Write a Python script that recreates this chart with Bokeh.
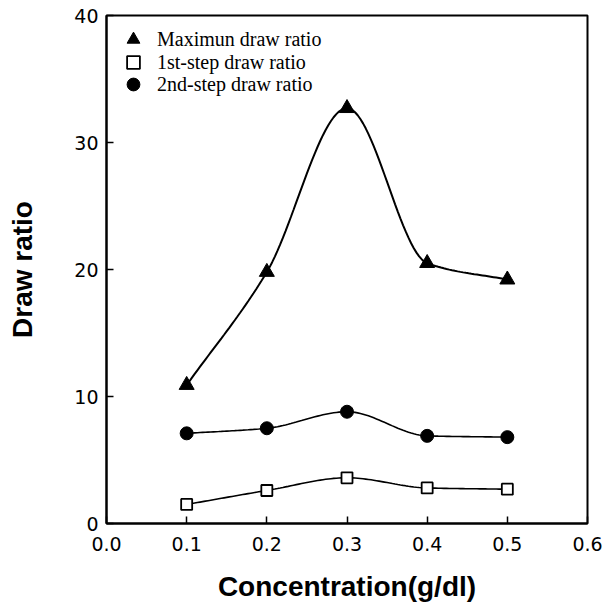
import numpy as np
from bokeh.plotting import figure
from bokeh.models import Legend, LegendItem, FixedTicker, Range1d
from bokeh.embed import file_html
from bokeh.resources import INLINE

# ---- data ----
concentration = [0.1, 0.2, 0.3, 0.4, 0.5]
max_draw_ratio = [10.9, 19.8, 32.7, 20.5, 19.2]
first_step_ratio = [1.5, 2.6, 3.6, 2.8, 2.7]
second_step_ratio = [7.1, 7.5, 8.8, 6.9, 6.8]
x_ticks = [0.0, 0.1, 0.2, 0.3, 0.4, 0.5, 0.6]
y_ticks = [0, 10, 20, 30, 40]
series_names = ["Maximun draw ratio", "1st-step draw ratio", "2nd-step draw ratio"]


def pchip_curve(x, y, n=30):
    """Monotone cubic (Fritsch-Carlson) smoothing through the measured points."""
    x = np.asarray(x, float)
    y = np.asarray(y, float)
    h = np.diff(x)
    d = np.diff(y) / h
    m = np.zeros_like(y)
    for k in range(1, len(x) - 1):
        if d[k - 1] * d[k] <= 0:
            m[k] = 0.0
        else:
            w1 = 2 * h[k] + h[k - 1]
            w2 = h[k] + 2 * h[k - 1]
            m[k] = (w1 + w2) / (w1 / d[k - 1] + w2 / d[k])
    m[0] = d[0]
    m[-1] = d[-1]
    xs, ys = [], []
    for k in range(len(x) - 1):
        t = np.linspace(0, 1, n, endpoint=(k == len(x) - 2))
        h00 = 2 * t**3 - 3 * t**2 + 1
        h10 = t**3 - 2 * t**2 + t
        h01 = -2 * t**3 + 3 * t**2
        h11 = t**3 - t**2
        xs.extend(x[k] + t * h[k])
        ys.extend(h00 * y[k] + h10 * h[k] * m[k] + h01 * y[k + 1] + h11 * h[k] * m[k + 1])
    return xs, ys


p = figure(
    width=605, height=610,
    x_range=Range1d(0, 0.6), y_range=Range1d(0, 40),
    output_backend="svg", toolbar_location=None,
    min_border_left=106, min_border_right=18,
    min_border_top=15, min_border_bottom=87,
    background_fill_color="white", border_fill_color="white",
)
p.grid.visible = False
p.outline_line_color = "black"
p.outline_line_width = 2

for ax in (p.xaxis[0], p.yaxis[0]):
    ax.axis_line_width = 2
    ax.major_tick_in = 7
    ax.major_tick_out = 0
    ax.major_tick_line_width = 1.5
    ax.minor_tick_line_color = None
    ax.major_label_text_font = "DejaVu Sans"
    ax.major_label_text_font_size = "19px"
    ax.major_label_text_font_style = "normal"
    ax.major_label_text_color = "black"
    ax.axis_label_text_font = "Liberation Sans"
    ax.axis_label_text_font_size = "28px"
    ax.axis_label_text_font_style = "bold"
    ax.axis_label_text_color = "black"

p.xaxis.ticker = FixedTicker(ticks=x_ticks)
p.yaxis.ticker = FixedTicker(ticks=y_ticks)
p.xaxis.major_label_overrides = {t: f"{t:.1f}" for t in x_ticks}
p.xaxis.axis_label = "Concentration(g/dl)"
p.yaxis.axis_label = "Draw ratio"
p.xaxis.major_label_standoff = 13
p.yaxis.major_label_standoff = 8
p.xaxis.axis_label_standoff = 17
p.yaxis.axis_label_standoff = 33

# curves
cx, cy = pchip_curve(concentration, max_draw_ratio)
p.line(cx, cy, line_color="black", line_width=2)
cx, cy = pchip_curve(concentration, first_step_ratio)
p.line(cx, cy, line_color="black", line_width=1.6)
cx, cy = pchip_curve(concentration, second_step_ratio)
p.line(cx, cy, line_color="black", line_width=1.6)

# markers
r_max = p.scatter(concentration, max_draw_ratio, marker="triangle", size=15,
                  fill_color="black", line_color="black")
r_first = p.scatter(concentration, first_step_ratio, marker="square", size=11,
                    fill_color="white", line_color="black", line_width=1.8)
r_second = p.scatter(concentration, second_step_ratio, marker="circle", size=13,
                     fill_color="black", line_color="black")

# one single-item legend per row, so rows can sit 22px apart with full-size markers
for name, rend, vy in zip(series_names, [r_max, r_first, r_second], [468, 445, 423]):
    lg = Legend(
        items=[LegendItem(label=name, renderers=[rend])],
        location=(11, vy),
        margin=0, padding=0,
        glyph_width=32, glyph_height=32,
        label_standoff=8, label_height=32,
        label_text_font="Liberation Serif", label_text_font_size="20px",
        label_text_color="black",
        border_line_color=None, background_fill_alpha=0,
    )
    p.add_layout(lg)

open("out.html", "w").write(file_html(p, INLINE))
